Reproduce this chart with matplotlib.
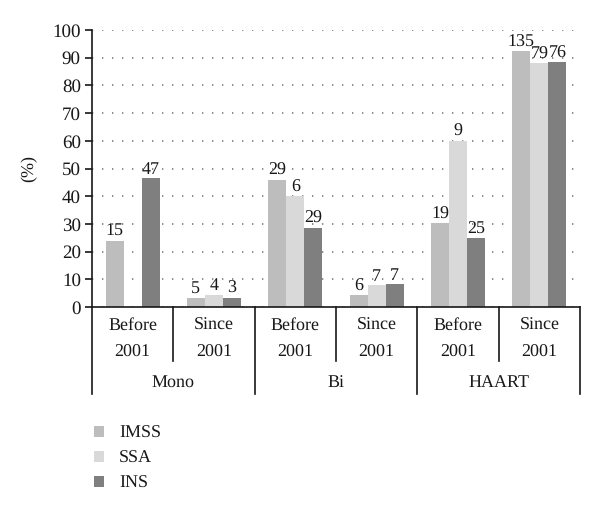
import matplotlib
matplotlib.use("Agg")
import matplotlib.pyplot as plt
from matplotlib.patches import Patch
import matplotlib.transforms as mtransforms
import numpy as np

plt.rcParams['font.family'] = ['Liberation Serif', 'DejaVu Serif']
plt.rcParams['text.hinting'] = 'no_hinting'
plt.rcParams['text.hinting_factor'] = 1
TXT = "#1a1718"

# ---- data ----
periods = ["Before\n2001", "Since\n2001"] * 3
therapies = ["Mono", "Bi", "HAART"]
series = ["IMSS", "SSA", "INS"]
colors = ["#bdbdbd", "#d9d9d9", "#7f7f7f"]
imss = [24, 3.4, 46, 4.2, 30.2, 92.4]
ssa = [None, 4.3, 40, 7.8, 60, 88]
ins = [46.4, 3.4, 28.6, 8.2, 24.8, 88.4]
imss_n = ["15", "5", "29", "6", "19", "135"]
ssa_n = [None, "4", "6", "7", "9", "79"]
ins_n = ["47", "3", "29", "7", "25", "76"]

fig = plt.figure(figsize=(6, 5.14), dpi=100, facecolor="white")
ax = fig.add_axes([92/600, 1-307/514, (580-92)/600, 277/514])

x = np.arange(len(periods))
w = 0.222
for k, (vals, labs, c) in enumerate(zip([imss, ssa, ins], [imss_n, ssa_n, ins_n], colors)):
    for i, (v, l) in enumerate(zip(vals, labs)):
        if v is None: continue
        xx = x[i] + (k-1)*w
        ax.bar(xx, v, width=w, color=c, lw=0, zorder=2)
        ax.text(xx, v+0.3, l, ha="center", va="bottom", fontsize=13, color=TXT, zorder=3)

ax.set_xlim(-0.5, 5.5); ax.set_ylim(0, 100)
ax.set_yticks(range(0, 101, 10))
ax.tick_params(axis="y", direction="out", length=5, width=1.2, labelsize=14, colors=TXT, pad=3)
ax.set_xticks([])
for s in ["top", "right"]: ax.spines[s].set_visible(False)
ax.spines["left"].set_linewidth(1.2); ax.spines["bottom"].set_linewidth(1.2)
ax.spines["left"].set_color(TXT); ax.spines["bottom"].set_color(TXT)
ax.yaxis.grid(True, linestyle=(0, (0.8, 5.2)), color="#777777", lw=1.2, zorder=0)
ax.set_ylabel("(%)", fontsize=13, color=TXT, labelpad=11)

# category table under the axis
tr = mtransforms.blended_transform_factory(ax.transData, ax.transAxes)
for xs in [0.5, 2.5, 4.5]:
    ax.plot([xs, xs], [0, -0.195], transform=tr, color=TXT, lw=1.2, clip_on=False)
for xs in [-0.5, 1.5, 3.5, 5.5]:
    ax.plot([xs, xs], [0, -0.314], transform=tr, color=TXT, lw=1.2, clip_on=False)
for i, p in enumerate(periods):
    a, b = p.split("\n")
    ax.text(x[i], -0.065, a, transform=tr, ha="center", va="center", fontsize=13, color=TXT)
    ax.text(x[i], -0.166, b, transform=tr, ha="center", va="center", fontsize=13, color=TXT)
for j, t in enumerate(therapies):
    ax.text(2*j+0.5, -0.274, t, transform=tr, ha="center", va="center", fontsize=13, color=TXT)

handles = [Patch(color=c, lw=0) for c in colors]
fig.legend(handles, series, loc="upper left", bbox_to_anchor=(94/600, 1-425/514), frameon=False,
           borderpad=0, borderaxespad=0, handlelength=0.55, handleheight=0.55, handletextpad=0.85,
           labelspacing=0.5, fontsize=13, labelcolor=TXT)

fig.savefig("out.png", dpi=100, facecolor="white")
